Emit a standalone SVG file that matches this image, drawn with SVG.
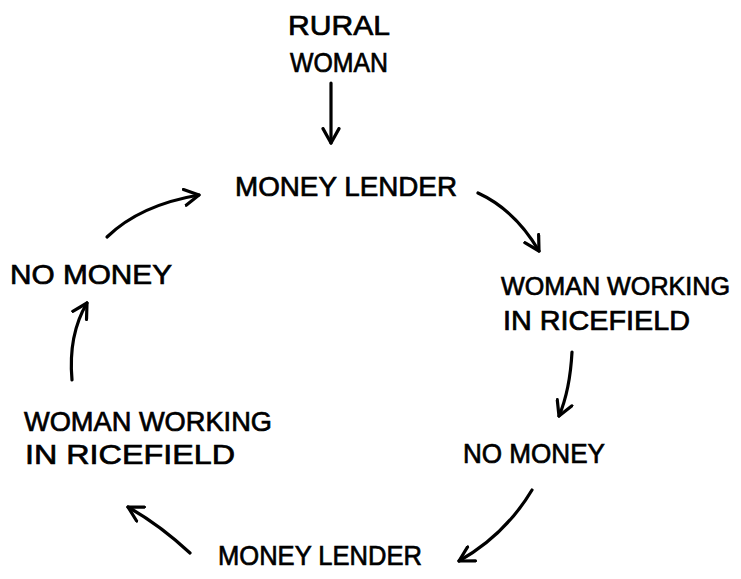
<svg xmlns="http://www.w3.org/2000/svg" width="741" height="579" viewBox="0 0 741 579">
<defs>
<style>
.t{font-family:"Liberation Sans","DejaVu Sans",sans-serif;font-size:28px;fill:#000;stroke:#000;stroke-width:0.7;}
.c{fill:none;stroke:#000;stroke-width:3.2;stroke-linecap:round;stroke-linejoin:round;}
</style>
<marker id="ah" viewBox="0 0 12 12" refX="10" refY="6" markerWidth="6" markerHeight="6" markerUnits="strokeWidth" orient="auto">
<path d="M1,1 L10,6 L1,11" fill="none" stroke="#000" stroke-width="2" stroke-linecap="round" stroke-linejoin="round"/>
</marker>
</defs>
<rect width="741" height="579" fill="#fff"/>
<g id="connectors">
<path class="c" d="M331,83 L331,143" marker-end="url(#ah)"/>
<path class="c" d="M478,193 Q515,210 539,251" marker-end="url(#ah)"/>
<path class="c" d="M572,352 Q570,390 559,416" marker-end="url(#ah)"/>
<path class="c" d="M532,490 Q505,535 459,561" marker-end="url(#ah)"/>
<path class="c" d="M190,553 Q160,525 128,507" marker-end="url(#ah)"/>
<path class="c" d="M72,380 Q68,335 87,303" marker-end="url(#ah)"/>
<path class="c" d="M107,237 Q140,205 199,195" marker-end="url(#ah)"/>
</g>
<g id="rural-woman">
<text class="t" x="288" y="35" textLength="102" lengthAdjust="spacingAndGlyphs">RURAL</text>
<text class="t" x="290" y="72" textLength="98" lengthAdjust="spacingAndGlyphs">WOMAN</text>
</g>
<g id="money-lender-top">
<text class="t" x="235" y="196" textLength="222" lengthAdjust="spacingAndGlyphs">MONEY LENDER</text>
</g>
<g id="woman-working-right">
<text class="t" x="501" y="295" style="font-size:25.5px" textLength="229" lengthAdjust="spacingAndGlyphs">WOMAN WORKING</text>
<text class="t" x="503" y="330" textLength="187" lengthAdjust="spacingAndGlyphs">IN RICEFIELD</text>
</g>
<g id="no-money-right">
<text class="t" x="463" y="463" textLength="142" lengthAdjust="spacingAndGlyphs">NO MONEY</text>
</g>
<g id="money-lender-bottom">
<text class="t" x="218" y="565" textLength="204" lengthAdjust="spacingAndGlyphs">MONEY LENDER</text>
</g>
<g id="woman-working-left">
<text class="t" x="24" y="431" textLength="248" lengthAdjust="spacingAndGlyphs">WOMAN WORKING</text>
<text class="t" x="25" y="464" textLength="210" lengthAdjust="spacingAndGlyphs">IN RICEFIELD</text>
</g>
<g id="no-money-left">
<text class="t" x="10" y="284" textLength="162" lengthAdjust="spacingAndGlyphs">NO MONEY</text>
</g>
</svg>
